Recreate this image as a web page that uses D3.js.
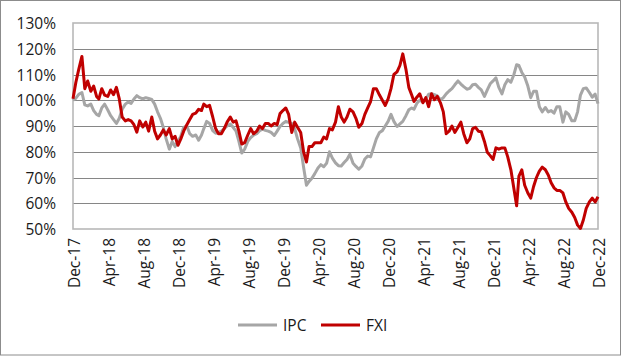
<!DOCTYPE html>
<html>
<head>
<meta charset="utf-8">
<script src="https://cdn.jsdelivr.net/npm/d3@7"></script>
<style>
  html, body { margin: 0; padding: 0; background: #fff; }
  svg { display: block; }
  text { font-family: "Open Sans", "Noto Sans", sans-serif; fill: #1a1a1a; }
</style>
</head>
<body>
<script>
// ---- data ----
const dates = [
"2017-12-01","2017-12-11","2017-12-21",
"2018-01-01","2018-01-11","2018-01-21","2018-02-01","2018-02-11","2018-02-21","2018-03-01","2018-03-11","2018-03-21",
"2018-04-01","2018-04-11","2018-04-21","2018-05-01","2018-05-11","2018-05-21","2018-06-01","2018-06-11","2018-06-21",
"2018-07-01","2018-07-11","2018-07-21","2018-08-01","2018-08-11","2018-08-21","2018-09-01","2018-09-11","2018-09-21",
"2018-10-01","2018-10-11","2018-10-21","2018-11-01","2018-11-11","2018-11-21","2018-12-01","2018-12-11","2018-12-21",
"2019-01-01","2019-01-11","2019-01-21","2019-02-01","2019-02-11","2019-02-21","2019-03-01","2019-03-11","2019-03-21",
"2019-04-01","2019-04-11","2019-04-21","2019-05-01","2019-05-11","2019-05-21","2019-06-01","2019-06-11","2019-06-21",
"2019-07-01","2019-07-11","2019-07-21","2019-08-01","2019-08-11","2019-08-21","2019-09-01","2019-09-11","2019-09-21",
"2019-10-01","2019-10-11","2019-10-21","2019-11-01","2019-11-11","2019-11-21","2019-12-01","2019-12-11","2019-12-21",
"2020-01-01","2020-01-11","2020-01-21","2020-02-01","2020-02-11","2020-02-21","2020-03-01","2020-03-11","2020-03-21",
"2020-04-01","2020-04-11","2020-04-21","2020-05-01","2020-05-11","2020-05-21","2020-06-01","2020-06-11","2020-06-21",
"2020-07-01","2020-07-11","2020-07-21","2020-08-01","2020-08-11","2020-08-21","2020-09-01","2020-09-11","2020-09-21",
"2020-10-01","2020-10-11","2020-10-21","2020-11-01","2020-11-11","2020-11-21","2020-12-01","2020-12-11","2020-12-21",
"2021-01-01","2021-01-11","2021-01-21","2021-02-01","2021-02-11","2021-02-21","2021-03-01","2021-03-11","2021-03-21",
"2021-04-01","2021-04-11","2021-04-21","2021-05-01","2021-05-11","2021-05-21","2021-06-01","2021-06-11","2021-06-21",
"2021-07-01","2021-07-11","2021-07-21","2021-08-01","2021-08-11","2021-08-21","2021-09-01","2021-09-11","2021-09-21",
"2021-10-01","2021-10-11","2021-10-21","2021-11-01","2021-11-11","2021-11-21","2021-12-01","2021-12-11","2021-12-21",
"2022-01-01","2022-01-11","2022-01-21","2022-02-01","2022-02-11","2022-02-21","2022-03-01","2022-03-11","2022-03-21",
"2022-04-01","2022-04-11","2022-04-21","2022-05-01","2022-05-11","2022-05-21","2022-06-01","2022-06-11","2022-06-21",
"2022-07-01","2022-07-11","2022-07-21","2022-08-01","2022-08-11","2022-08-21","2022-09-01","2022-09-11","2022-09-21",
"2022-10-01","2022-10-11","2022-10-21","2022-11-01","2022-11-11","2022-11-21","2022-12-01"
];

const ipc = [
100,100.8,102.3,103,98.2,97.8,98.5,96,94.5,94,
97,98.5,96.2,94,92.5,91,93,96.5,98.5,99.3,
98.8,100.5,101.8,101,100.5,101,100.7,100.3,98.5,95.5,
93,89.5,85,81,84,82,84,86,89.5,90,
87,86,86.5,84.5,86.5,89,91.8,91,88.2,87.2,
87.4,88,89,90,90.8,89.5,88,84,79.5,81,
84,85.5,86.5,87,88.2,88.8,88.3,88,87.5,86.3,
88,89.8,91,91.8,91.4,91,89,85,81.5,74,
67,68.5,69.7,71.5,73.7,75,74.2,75.5,80,77.5,
75.7,74.6,74.5,75.8,77,79,75.5,74.3,73.2,74.5,
77.2,78.3,78,81.5,85,87.5,88.2,90,91.8,94.5,
91.8,89.8,90.8,91.8,94,96.3,97,96.5,98.8,100,
99.4,100.5,102.3,102.5,102.2,101.7,100.2,101,102.5,103.6,
104.5,106,107.5,106.3,105.3,104.3,104.6,106,106.2,105,
104,101.5,104,106.4,107.5,108.7,105,102.5,106,108,
107,109.8,113.8,113.5,110.8,109,105.5,101,103.5,103.5,
97.5,95.5,97.2,95.5,96,95,97.5,97.5,91.5,95.5,
94.5,92,92,95.5,102,104.5,104.8,103,101.2,102.4,98.7
];

const fxi = [
100.6,107,112,117,104.5,107.5,103.5,105.5,101.5,100.5,
104.5,102,101.5,104,102.2,105,100.5,93.5,92,92.5,
92,90.5,87.6,92,89.6,91.5,88,93.5,88,85,
86.5,88.5,86.5,89,85,86,82.5,85,88,90.5,
92.5,94.5,95,96.5,96,98.5,97.5,98,93.5,89,
87,87,89,91.5,93.5,91.5,92,88,83,83.5,
86.5,89,87,88,90,89,91,91,90,91,
90.5,94.8,96,97,94.5,87.5,91.5,89.5,87.5,80,
76,82,82,83.5,83.5,83.5,85.7,85,89,88.5,
91.5,97.5,93.5,91.5,93.5,96.5,95.5,93,89.5,91,
94.5,97,99.5,104.5,104.5,102,100,98,100.5,104.5,
110,111,113.5,118,112,105,102,99.5,101.2,102.5,
99,101,97.5,102.5,100.2,101.5,99,95.5,87,88,
90,87.5,89.5,91.5,87,83.5,85,89,89.5,88,
87.8,84,79.8,78.5,77,81.5,81,81.5,81.5,78,
73,66,59,70.5,73,67,64,62,66.5,70,
72.5,74,73,71,68,66,65,65,64,60.5,
58,56.5,54.5,51.5,50.2,53.5,58,60.5,62,60.5,62.5
];

const seriesNames = ["IPC", "FXI"];
const seriesColors = ["#a6a6a6", "#c00000"];
const xTickLabels = ["Dec-17","Apr-18","Aug-18","Dec-18","Apr-19","Aug-19","Dec-19","Apr-20",
                     "Aug-20","Dec-20","Apr-21","Aug-21","Dec-21","Apr-22","Aug-22","Dec-22"];
const yTicks = [50,60,70,80,90,100,110,120,130];

// ---- layout ----
const W = 622, H = 356;
const plot = { left: 73, right: 598, top: 23, bottom: 229 };

const parse = d3.utcParse("%Y-%m-%d");
const parseTick = d3.utcParse("%b-%y");
const dt = dates.map(parse);
const tickDates = xTickLabels.map(parseTick);

const x = d3.scaleUtc()
  .domain([tickDates[0], tickDates[tickDates.length - 1]])
  .range([plot.left, plot.right]);
const y = d3.scaleLinear().domain([50, 130]).range([plot.bottom, plot.top]);

const svg = d3.select("body").append("svg").attr("width", W).attr("height", H);

svg.append("rect").attr("x", 0).attr("y", 0).attr("width", W).attr("height", H).attr("fill", "#fff");
// outer chart border
svg.append("rect").attr("x", 0.5).attr("y", 0.5).attr("width", W - 2).attr("height", H - 1.5)
  .attr("fill", "none").attr("stroke", "#8c8c8c").attr("stroke-width", 1);

// gridlines
svg.append("g").selectAll("line").data(yTicks.filter(v => v > 50 && v < 130)).join("line")
  .attr("x1", plot.left).attr("x2", plot.right)
  .attr("y1", d => Math.round(y(d)) + 0.5).attr("y2", d => Math.round(y(d)) + 0.5)
  .attr("stroke", "#868686").attr("stroke-width", 1);

// plot-area frame
svg.append("rect").attr("x", plot.left).attr("y", plot.top)
  .attr("width", plot.right - plot.left).attr("height", plot.bottom - plot.top)
  .attr("fill", "none").attr("stroke", "#b8b8b8").attr("stroke-width", 1.6);

// y axis labels
const yAxis = d3.axisLeft(y).tickValues(yTicks).tickFormat(d => d + "%").tickSize(0).tickPadding(0);
const gy = svg.append("g").attr("transform", `translate(${plot.left - 17},0)`).call(yAxis);
gy.select(".domain").remove();
gy.selectAll("text").attr("font-size", 15.5).attr("font-family", '"Open Sans", sans-serif')
  .attr("fill", "#1a1a1a").attr("dy", "0.36em");

// x axis labels
const xAxis = d3.axisBottom(x).tickValues(tickDates).tickFormat((d, i) => xTickLabels[i]).tickSize(0).tickPadding(0);
const gx = svg.append("g").attr("transform", `translate(0,${plot.bottom})`).call(xAxis);
gx.select(".domain").remove();
gx.selectAll("text")
  .attr("font-size", 15.5).attr("font-family", '"Open Sans", sans-serif').attr("fill", "#1a1a1a")
  .attr("text-anchor", "end")
  .attr("transform", "rotate(-90)")
  .attr("x", -9).attr("y", 0).attr("dy", "0.42em");

// lines
const line = d3.line().x((d, i) => x(dt[i])).y(d => y(d)).curve(d3.curveLinear);
[ipc, fxi].forEach((vals, s) => {
  svg.append("path").datum(vals)
    .attr("d", line)
    .attr("fill", "none")
    .attr("stroke", seriesColors[s])
    .attr("stroke-width", 3)
    .attr("stroke-linejoin", "round");
});

// legend
const legendX = [238, 321];
const lg = svg.append("g");
seriesNames.forEach((name, i) => {
  lg.append("line").attr("x1", legendX[i]).attr("x2", legendX[i] + 39)
    .attr("y1", 325).attr("y2", 325)
    .attr("stroke", seriesColors[i]).attr("stroke-width", 3);
  lg.append("text").attr("x", legendX[i] + 45).attr("y", 331)
    .attr("font-size", 15.5).text(name);
});
</script>
</body>
</html>
